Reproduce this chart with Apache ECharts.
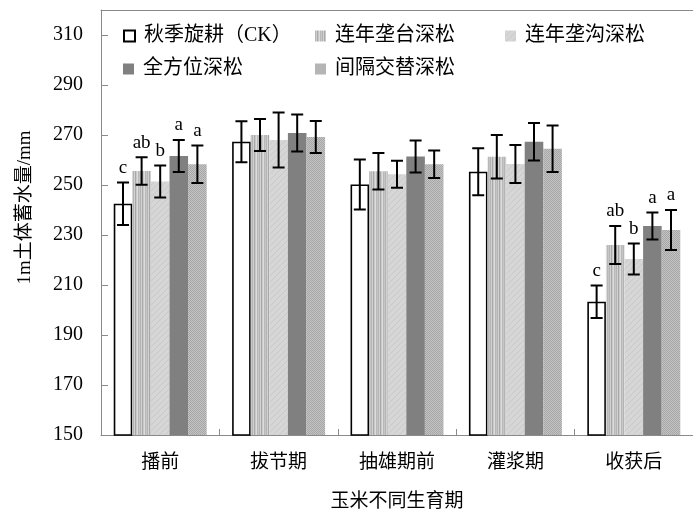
<!DOCTYPE html>
<html>
<head>
<meta charset="utf-8">
<script src="https://cdn.jsdelivr.net/npm/echarts@6/dist/echarts.min.js"></script>
<style>
  html, body { margin: 0; padding: 0; background: #fff; }
  #chart { width: 693px; height: 517px; }
</style>
</head>
<body>
<div id="chart"></div>
<script>
// Growth stages of maize
const categories = ['播前', '拔节期', '抽雄期前', '灌浆期', '收获后'];

// Tillage treatments
const seriesNames = ['秋季旋耕（CK）', '连年垄台深松', '连年垄沟深松', '全方位深松', '间隔交替深松'];

// Soil water storage in 1 m profile (mm)
const ckValues   = [242.5, 267.3, 250.2, 255.3, 203.3];
const taiValues  = [255.6, 270.0, 255.5, 261.3, 226.0];
const gouValues  = [251.4, 268.0, 254.3, 258.4, 220.4];
const quanValues = [261.6, 270.8, 261.4, 267.3, 233.6];
const jgValues   = [258.3, 269.2, 258.3, 264.5, 232.0];

// Standard errors (mm)
const ckErr   = [8.5, 8.2, 10.0, 9.4, 6.5];
const taiErr  = [5.5, 6.4, 7.3, 8.7, 7.6];
const gouErr  = [6.4, 11.0, 5.4, 7.6, 6.2];
const quanErr = [6.4, 7.4, 6.4, 7.5, 5.4];
const jgErr   = [7.5, 6.4, 5.5, 9.3, 8.0];

// Significance letters
const ckSig   = ['c', '', '', '', 'c'];
const taiSig  = ['ab', '', '', '', 'ab'];
const gouSig  = ['b', '', '', '', 'b'];
const quanSig = ['a', '', '', '', 'a'];
const jgSig   = ['a', '', '', '', 'a'];

// Y axis ticks
const yMin = 150, yMax = 320, yStep = 20;

const allValues = [ckValues, taiValues, gouValues, quanValues, jgValues];
const allErr = [ckErr, taiErr, gouErr, quanErr, jgErr];
const allSig = [ckSig, taiSig, gouSig, quanSig, jgSig];

const LATIN = "'Liberation Serif', 'Times New Roman', 'Noto Sans CJK SC', serif";
const CJK = "'Liberation Serif', 'Noto Sans CJK SC', serif";

function makePattern(w, h, draw) {
  const c = document.createElement('canvas');
  c.width = w; c.height = h;
  const ctx = c.getContext('2d');
  draw(ctx, w, h);
  return { image: c, repeat: 'repeat' };
}

// vertical stripes
const stripePattern = makePattern(7, 4, (ctx, w, h) => {
  const cols = ['#b4b4b4', '#d2d2d2', '#a8a8a8', '#cacaca', '#dcdcdc', '#b8b8b8', '#c6c6c6'];
  cols.forEach((c, i) => { ctx.fillStyle = c; ctx.fillRect(i, 0, 1, h); });
});
// light fill with faint diagonal hatch
const hatchPattern = makePattern(6, 6, (ctx, w, h) => {
  ctx.fillStyle = '#d6d6d6'; ctx.fillRect(0, 0, w, h);
  ctx.fillStyle = '#c9c9c9';
  for (let i = 0; i < w; i++) ctx.fillRect(i, (w - 1 - i), 1, 1);
});
// fine checker dots
const dotPattern = makePattern(2, 2, (ctx) => {
  ctx.fillStyle = '#c4c4c4'; ctx.fillRect(0, 0, 2, 2);
  ctx.fillStyle = '#a6a6a6'; ctx.fillRect(0, 0, 1, 1); ctx.fillRect(1, 1, 1, 1);
});

const fills = [
  { color: '#ffffff', borderColor: '#000000', borderWidth: 1.6 },
  { color: stripePattern },
  { color: hatchPattern },
  { color: '#808080' },
  { color: dotPattern }
];

const BAR_FRAC = 0.157;

const barSeries = seriesNames.map((name, s) => ({
  name: name,
  type: 'bar',
  data: allValues[s],
  barWidth: (BAR_FRAC * 100) + '%',
  barGap: '0%',
  itemStyle: fills[s],
  z: 2
}));

const errData = [];
for (let s = 0; s < seriesNames.length; s++) {
  for (let i = 0; i < categories.length; i++) {
    errData.push([i, s, allValues[s][i], allErr[s][i], allSig[s][i]]);
  }
}

const errorSeries = {
  type: 'custom',
  name: 'err',
  data: errData,
  z: 5,
  silent: true,
  renderItem: function (params, api) {
    const cat = api.value(0);
    const s = api.value(1);
    const v = api.value(2);
    const e = api.value(3);
    const sig = errData[params.dataIndex][4];
    const band = api.size([1, 0])[0];
    const bw = band * BAR_FRAC;
    const cx = api.coord([cat, v])[0] + (s - 2) * bw;
    const yTop = api.coord([cat, v + e])[1];
    const yBot = api.coord([cat, v - e])[1];
    const cap = 6;
    const st = { stroke: '#000', lineWidth: 2 };
    const children = [
      { type: 'line', shape: { x1: cx, y1: yTop, x2: cx, y2: yBot }, style: st },
      { type: 'line', shape: { x1: cx - cap, y1: yTop, x2: cx + cap, y2: yTop }, style: st },
      { type: 'line', shape: { x1: cx - cap, y1: yBot, x2: cx + cap, y2: yBot }, style: st }
    ];
    if (sig) {
      children.push({
        type: 'text',
        style: {
          x: cx, y: yTop - 5, text: sig,
          align: 'center', verticalAlign: 'bottom',
          fill: '#000', font: "19px " + LATIN
        }
      });
    }
    return { type: 'group', children: children };
  }
};

// legend positions (icon left, row top)
const legendSlots = [[123, 26], [315, 26], [505, 26], [123, 59], [315, 59]];

const legends = seriesNames.map((name, i) => ({
  data: [name],
  left: legendSlots[i][0],
  top: legendSlots[i][1],
  padding: 0,
  icon: 'rect',
  itemWidth: 11,
  itemHeight: 11,
  itemGap: 0,
  selectedMode: false,
  textStyle: { fontSize: 20, fontFamily: CJK, color: '#000', padding: [0, 0, 0, 4] }
}));

const chart = echarts.init(document.getElementById('chart'), null, { renderer: 'canvas' });

chart.setOption({
  animation: false,
  backgroundColor: '#fff',
  legend: legends,
  grid: { left: 101, top: 10, right: 0, bottom: 78, containLabel: false },
  xAxis: [
    {
      type: 'category',
      data: categories,
      axisLine: { lineStyle: { color: '#8a8a8a', width: 1 } },
      axisTick: { show: true, inside: true, length: 6, lineStyle: { color: '#8a8a8a' } },
      axisLabel: { color: '#000', fontSize: 19, fontFamily: CJK, margin: 19 },
      name: '玉米不同生育期',
      nameLocation: 'middle',
      nameGap: 58,
      nameTextStyle: { color: '#000', fontSize: 19, fontFamily: CJK }
    },
    {
      type: 'category',
      data: categories,
      position: 'top',
      axisLine: { lineStyle: { color: '#8a8a8a', width: 1 } },
      axisTick: { show: false },
      axisLabel: { show: false }
    }
  ],
  yAxis: {
    type: 'value',
    min: yMin,
    max: yMax,
    interval: yStep,
    axisLine: { show: true, lineStyle: { color: '#8a8a8a', width: 1 } },
    axisTick: { show: true, inside: true, length: 7, lineStyle: { color: '#8a8a8a' } },
    splitLine: { show: false },
    axisLabel: {
      color: '#000', fontSize: 20, fontFamily: LATIN, margin: 18,
      showMaxLabel: false, padding: [0, 0, 8, 0]
    },
    name: '1m土体蓄水量/mm',
    nameLocation: 'middle',
    nameGap: 66,
    nameRotate: 90,
    nameTextStyle: { color: '#000', fontSize: 19, fontFamily: CJK, padding: [0, 0, 0, 30] }
  },
  series: barSeries.concat([errorSeries])
});
</script>
</body>
</html>
